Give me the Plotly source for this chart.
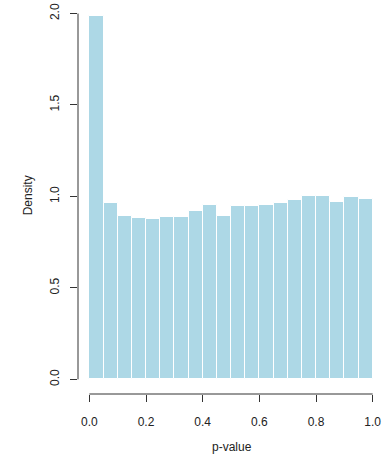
import plotly.graph_objects as go

# Histogram of p-values: 20 bins of width 0.05 on [0, 1], density scale
bin_edges = [i * 0.05 for i in range(21)]
densities = [1.985, 0.964, 0.895, 0.880, 0.875, 0.886, 0.890, 0.921,
             0.951, 0.895, 0.946, 0.949, 0.953, 0.964, 0.978, 1.004,
             1.003, 0.969, 0.998, 0.987]
x_ticks = [0.0, 0.2, 0.4, 0.6, 0.8, 1.0]
x_tick_text = ["0.0", "0.2", "0.4", "0.6", "0.8", "1.0"]
y_ticks = [0.0, 0.5, 1.0, 1.5, 2.0]
y_tick_text = ["0.0", "0.5", "1.0", "1.5", "2.0"]

centers = [(bin_edges[i] + bin_edges[i + 1]) / 2 for i in range(len(densities))]
widths = [bin_edges[i + 1] - bin_edges[i] for i in range(len(densities))]

FONT = "Liberation Sans, Arial, Helvetica, sans-serif"
INK = "#222222"
AXIS = "#333333"

fig = go.Figure(
    go.Bar(
        x=centers,
        y=densities,
        width=widths,
        marker=dict(color="#ADD8E6", line=dict(color="white", width=1)),
        hoverinfo="skip",
    )
)

fig.update_layout(
    width=386,
    height=459,
    margin=dict(l=78, r=2, t=0, b=65),
    paper_bgcolor="white",
    plot_bgcolor="white",
    showlegend=False,
    bargap=0,
    font=dict(family=FONT, size=12, color=INK),
)

fig.update_xaxes(
    range=[-0.04, 1.04],
    tickvals=x_ticks,
    ticktext=x_tick_text,
    ticks="outside",
    ticklen=7,
    tickwidth=1,
    tickcolor=AXIS,
    ticklabelstandoff=10,
    showline=False,
    showgrid=False,
    zeroline=False,
    tickfont=dict(family=FONT, size=12, color=INK),
)
fig.update_yaxes(
    range=[-0.08, 2.074],
    tickvals=y_ticks,
    ticktext=y_tick_text,
    tickangle=-90,
    ticks="outside",
    ticklen=7,
    tickwidth=1,
    tickcolor=AXIS,
    ticklabelstandoff=6,
    showline=False,
    showgrid=False,
    zeroline=False,
    tickfont=dict(family=FONT, size=12, color=INK),
)

# R-style axis lines spanning only the first to last tick
fig.add_shape(type="line", xref="x", yref="paper",
              x0=x_ticks[0], x1=x_ticks[-1], y0=0, y1=0,
              line=dict(color=AXIS, width=1))
fig.add_shape(type="line", xref="paper", yref="y",
              x0=0, x1=0, y0=y_ticks[0], y1=y_ticks[-1],
              line=dict(color=AXIS, width=1))

# Axis titles
fig.add_annotation(text="p-value", xref="paper", yref="paper",
                   x=0.502, y=-0.1338, xanchor="center", yanchor="middle",
                   showarrow=False, font=dict(family=FONT, size=12, color=INK))
fig.add_annotation(text="Density", xref="paper", yref="paper",
                   x=-0.1624, y=0.505, xanchor="center", yanchor="middle",
                   textangle=-90, showarrow=False,
                   font=dict(family=FONT, size=12, color=INK))

fig.write_html("out.html")
